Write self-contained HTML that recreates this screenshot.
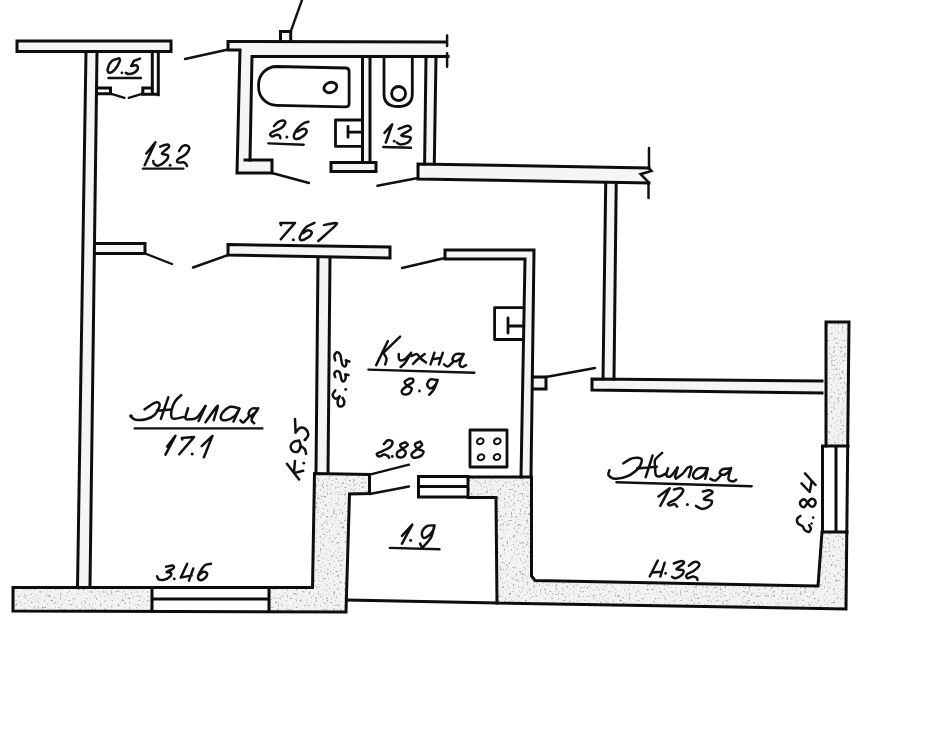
<!DOCTYPE html>
<html><head><meta charset="utf-8">
<title>plan</title>
<style>
html,body{margin:0;padding:0;background:#fff;}
body{width:928px;height:730px;overflow:hidden;font-family:"Liberation Sans",sans-serif;}
svg{display:block}
.f{fill:#f5f5f5;stroke:none}
.k{fill:#f3f3f3;stroke:none}
.s{fill:#000;stroke:none;filter:url(#st)}
.wf{fill:#fff;stroke:none}
.l{fill:none;stroke:#0d0d0d;stroke-width:3;stroke-linecap:square;stroke-linejoin:miter}
.m{fill:none;stroke:#0d0d0d;stroke-width:2.8;stroke-linecap:round;stroke-linejoin:round}
.d{fill:none;stroke:#111;stroke-width:2.4;stroke-linecap:round}
.n{fill:none;stroke:#111;stroke-width:2.5;stroke-linecap:round;stroke-linejoin:round}
.u{fill:none;stroke:#111;stroke-width:2.4;stroke-linecap:round}
</style></head><body>
<svg width="928" height="730" viewBox="0 0 928 730">
<defs>
<filter id="st" x="0" y="0" width="100%" height="100%" filterUnits="objectBoundingBox" color-interpolation-filters="sRGB">
<feTurbulence type="fractalNoise" baseFrequency="0.45" numOctaves="2" seed="7" result="n"/>
<feColorMatrix in="n" type="matrix" values="0 0 0 0 0.66  0 0 0 0 0.66  0 0 0 0 0.66  0 0 0 -5 2.05" result="c"/>
<feComposite in="c" in2="SourceGraphic" operator="in"/>
</filter>
</defs>
<rect width="928" height="730" fill="#fff"/>
<!-- ===== wall fills ===== -->
<g class="f">
<rect x="17" y="41" width="154" height="10.5"/>
<polygon points="86,51.5 97,51.5 90,587 77.5,587"/>
<rect x="96" y="243.5" width="49" height="10"/>
<polygon points="228,244.5 390,247 390,258 228,255"/>
<polygon points="318,257 330,257 328,474 316,474"/>
<polygon points="228,41.5 447,42 447,56 252,56.5 250,160 272,160 272,173 237,173 240,50 228,50"/>
<polygon points="362.5,56.5 370,56.5 370,162 362.5,162"/>
<rect x="331" y="162.5" width="45" height="9"/>
<polygon points="426,56.5 436,56.5 434.3,164 424.6,164"/>
<polygon points="418,164 649,168 651,171 641,174.2 648,182 648,183 418,179"/>
<polygon points="605.7,183 616.2,183 614,379 603,379"/>
<polygon points="445,250 534,250 531,478 521,478 525,259 445,259"/>
<rect x="532" y="377" width="14" height="12"/>
<polygon points="592,379 823,381 823,393 592,390"/>
</g>
<g class="k">
<polygon points="13,587.5 312.5,587.5 314.5,473.5 369.5,474.5 369.5,493.5 349.5,494 346,612 13,611"/>
<path d="M826 322H849L846 609L497 603L496 497.5H468V477H531.5V576L535 580.5L818 586L822 532L822.5 446H826Z"/>
</g>
<g class="s">
<polygon points="13,587.5 312.5,587.5 314.5,473.5 369.5,474.5 369.5,493.5 349.5,494 346,612 13,611"/>
<path d="M826 322H849L846 609L497 603L496 497.5H468V477H531.5V576L535 580.5L818 586L822 532L822.5 446H826Z"/>
</g>
<!-- window / vent interiors -->
<g class="wf">
<rect x="152" y="588" width="117" height="23"/>
<rect x="823" y="446" width="24" height="86"/>
<rect x="418.5" y="476.5" width="49.5" height="20.5"/>
</g>
<!-- ===== wall lines ===== -->
<g class="l">
<!-- top-left horizontal wall -->
<rect x="17" y="41" width="154" height="10.5"/>
<!-- long left wall -->
<path d="M86 51.5L77.5 587M97 51.5L90 587"/>
<!-- closet -->
<path d="M152.3 51.5V93.5M158.3 51.5V94.8M142.8 94.3H156"/>
<path d="M97 88H110.5V93.7H97M152 88H142.8V93.7"/>
<!-- stub wall left room top -->
<path d="M96 243.5H145V253.5H96"/>
<!-- 7.67 wall -->
<polygon points="228,244.5 390,247 390,258 228,255"/>
<!-- vertical wall living/kitchen -->
<path d="M318 258L316 473.5M330 258L328 473.5"/>
<!-- bottom-left thick wall -->
<path d="M13 587.5H312.5L314.5 473.5L369.5 474.5V493.5L349.5 494L346 612L13 611Z"/>
<path d="M152 587.5V611M269 587.5V611.5M152 599H269"/>
<!-- 1.9 room bottom line -->
<path d="M347 600L497 603"/>
<!-- bathroom block -->
<path d="M445 42L228 41.5V50H240L237 173H272V160H245"/>
<path d="M250 160L252 56.5H448"/>
<path d="M362.5 57V162M370 57V162"/>
<rect x="331" y="162.5" width="45" height="9"/>
<path d="M426 57L424.6 164M436 57L434.3 164"/>
<!-- little box on top -->
<path d="M280.5 41V31.5H290.7V41"/>
<!-- hall right wall -->
<path d="M649 168L418 164V179L649 183"/>
<!-- vertical wall below it -->
<path d="M605.7 184L603 379M616.2 184L614 379"/>
<!-- kitchen wall -->
<path d="M445 259V250H534L531 477M521 477L525 259H445"/>
<!-- stub -->
<path d="M532.5 377H546V389H532.5"/>
<!-- right room top wall -->
<path d="M822 381L592 379V390L822 393"/>
<!-- right thick walls -->
<path d="M826 446V322H849L846 609L497 603L496 497.5H468"/>
<path d="M468 477H531.5V576L535 580.5L818 586L822 532"/>
<!-- right window -->
<path d="M822.5 446V532M836 446V532M822.5 446H848M822.5 532H847"/>
<!-- vent -->
<path d="M418.5 476.5H468V497H418.5ZM418.5 486.5H468"/>
</g>
<!-- ===== thin lines (doors etc.) ===== -->
<g class="d">
<path d="M110.5 93.7L124.5 97.8M142.8 93.7L128.8 97.8"/>
<path d="M228 49.5L185 59"/>
<path d="M290.7 31.5L302 0"/>
<path d="M272 173L309 183"/>
<path d="M418 178L377.4 185.8"/>
<path d="M145 253.5L172 264"/>
<path d="M228 255L193 267.5"/>
<path d="M445 258L402 268"/>
<path d="M546 377L595 368"/>
<path d="M369.7 474.6L409 464.7M369.7 494L409 486.5"/>
<!-- break marks -->
<path stroke-width="2.5" d="M447.1 35.6V46M447.1 53.2V66.8"/>
<path stroke-width="2.5" d="M649 148V168.5L651.5 171L640.6 174.2L648.2 181.8L648.5 183V198"/>
</g>
<!-- ===== fixtures ===== -->
<g class="m">
<!-- bathtub -->
<path d="M276.6 66.5L345.6 68Q349.1 68.1 349.1 71.5V103.5Q349.1 107 345.6 106.9L276.6 105.3A18 18 0 0 1 258.6 87.3V84.5A18 18 0 0 1 276.6 66.5Z"/>
<ellipse cx="330.4" cy="87.5" rx="6.6" ry="5" transform="rotate(-20 330.4 87.5)"/>
<!-- bathroom sink -->
<path d="M362 120H335.5V146.4H362M348 126.3V137.3M348 132.2H362"/>
<!-- toilet -->
<path d="M384 57V94Q384 106.5 398 106.5Q412.3 106.5 412.3 94V57"/>
<circle cx="398.6" cy="93.5" r="7"/>
<!-- kitchen sink -->
<path d="M523 307.7H494.6V339.5H522.5M508 318V333M508 326H522.5"/>
<!-- stove -->
<rect x="470" y="430" width="37" height="37"/>
<g stroke-width="2"><ellipse cx="480.3" cy="441.3" rx="3.4" ry="2.8" transform="rotate(-25 480.3 441.3)"/><ellipse cx="497.3" cy="441.3" rx="3.4" ry="2.8" transform="rotate(-25 497.3 441.3)"/>
<ellipse cx="481" cy="457.3" rx="3.4" ry="2.8" transform="rotate(-25 481 457.3)"/><ellipse cx="497" cy="457" rx="3.4" ry="2.8" transform="rotate(-25 497 457)"/></g>
</g>
<g class="n">
<path d="M144.6 409.4C146.2 408.3 152.1 404.0 154.5 402.9C156.9 401.8 158.0 402.2 158.8 402.9C159.6 403.6 159.9 405.2 159.2 407.2C158.5 409.2 156.7 413.0 154.5 415.0C152.3 417.0 149.1 418.5 145.9 419.3C142.7 420.1 138.0 420.2 135.5 419.7C133.0 419.2 131.6 416.9 130.8 416.3M181.2 395.2C180.2 396.2 176.8 398.8 175.2 401.2C173.6 403.6 172.3 407.1 171.7 409.8C171.1 412.5 171.1 416.1 171.7 417.6C172.3 419.1 173.2 418.9 175.2 418.8C177.2 418.7 182.4 417.2 183.8 416.9M188.1 408.1C187.7 409.8 185.1 416.5 185.5 418.4C185.9 420.2 188.5 419.3 190.4 419.2C192.3 419.1 194.5 419.7 197.0 417.5C199.5 415.3 204.1 407.9 205.5 406.0M205.5 422.3C207.2 419.9 213.9 410.1 215.9 407.6C217.9 405.1 218.0 405.1 217.6 407.2C217.2 409.3 214.3 418.0 213.7 420.2M239.1 408.5C237.7 408.2 233.2 406.2 230.5 406.8C227.8 407.4 224.4 410.5 222.8 412.4C221.2 414.3 220.4 417.1 221.0 418.4C221.6 419.7 223.9 420.6 226.2 420.2C228.5 419.8 232.6 417.8 234.8 415.9C237.0 413.9 239.8 407.6 239.6 408.5C239.4 409.4 234.5 419.3 233.5 421.5M258.1 408.5C257.1 408.5 253.6 407.7 252.0 408.5C250.4 409.3 248.9 412.1 248.6 413.3C248.3 414.5 249.2 416.0 250.3 415.9C251.5 415.8 254.2 413.6 255.5 412.4C256.8 411.2 258.8 407.4 258.1 408.5C257.5 409.6 252.2 416.9 251.6 419.3C250.9 421.8 253.8 422.6 254.2 423.2M249.5 415.9C248.5 417.0 244.9 421.6 243.4 422.3C241.9 423.0 240.9 420.6 240.4 420.2M166.1 566.8C167.2 566.6 171.4 565.2 172.6 565.5C173.8 565.8 174.4 567.4 173.4 568.5C172.4 569.6 167.0 571.3 166.6 572.0C166.2 572.7 170.3 572.0 170.9 572.8C171.5 573.6 171.2 575.6 170.0 576.7C168.8 577.9 165.9 579.3 164.0 579.7C162.1 580.1 160.0 579.9 158.8 579.3C157.7 578.7 157.4 576.8 157.1 576.3M210.9 563.8C210.0 564.0 207.1 563.8 205.3 565.1C203.5 566.4 201.4 569.5 200.2 571.6C199.0 573.7 197.9 576.2 198.0 577.6C198.1 579.0 199.6 580.4 201.0 580.2C202.4 580.1 205.3 577.9 206.2 576.7C207.1 575.5 207.2 573.6 206.6 572.8C206.0 572.0 204.1 571.6 202.8 572.0C201.5 572.4 199.6 574.5 198.9 575.0M299.1 440.5C298.2 440.7 295.3 440.8 293.9 441.7C292.5 442.6 290.9 444.2 290.7 445.8C290.5 447.4 291.5 450.0 292.7 451.0C293.9 452.0 296.6 452.5 297.9 451.6C299.2 450.7 300.3 447.7 300.5 445.8C300.7 443.9 299.3 441.4 299.1 440.5M300.5 445.8C301.2 446.4 304.0 447.9 304.9 449.2C305.8 450.5 305.9 453.1 306.1 453.9M295.6 432.4C296.4 431.6 298.6 428.2 300.3 427.7C302.1 427.2 304.8 428.2 306.1 429.5C307.4 430.8 308.4 433.6 308.2 435.3C308.0 437.0 305.4 439.1 304.9 439.9M314.4 222.9C313.0 223.6 308.6 225.0 306.2 227.2C303.8 229.4 301.1 233.7 300.2 235.9C299.3 238.1 299.7 239.9 301.0 240.2C302.3 240.5 306.1 238.9 307.9 237.6C309.7 236.3 311.8 233.6 311.8 232.4C311.8 231.2 309.4 230.2 307.9 230.3C306.4 230.5 303.6 232.8 302.8 233.3M323.9 225.1C325.8 224.7 333.2 222.8 335.1 222.9C337.0 223.0 338.3 222.5 335.5 225.5C332.7 228.5 321.2 238.4 318.3 241.0M160.2 146.6C161.3 146.2 165.7 144.4 167.1 144.5C168.5 144.6 169.7 145.6 168.8 147.1C167.9 148.6 162.1 152.1 161.9 153.5C161.8 154.9 167.2 154.2 167.9 155.3C168.6 156.5 167.8 158.7 166.2 160.4C164.6 162.1 160.4 165.0 158.4 165.6C156.4 166.2 154.9 164.7 154.1 163.9C153.2 163.1 153.4 161.4 153.3 160.9M179.1 150.9C179.7 150.1 181.1 147.0 182.6 146.2C184.1 145.3 186.7 145.3 187.8 145.8C188.9 146.3 189.5 147.7 189.1 149.2C188.7 150.7 186.9 153.3 185.2 154.8C183.5 156.3 180.5 157.3 179.1 158.3C177.7 159.3 177.0 160.2 177.0 160.9C177.0 161.6 178.0 162.4 179.1 162.6C180.2 162.8 182.2 162.0 183.4 162.2C184.6 162.4 185.4 163.3 186.0 163.9C186.6 164.5 186.8 165.7 186.9 166.0M119.3 58.2C118.0 58.7 113.5 59.4 111.6 61.2C109.7 63.0 108.1 67.1 107.7 69.0C107.3 70.9 108.2 72.7 109.4 72.8C110.6 72.9 113.3 71.3 115.0 69.4C116.7 67.5 119.0 63.1 119.7 61.2C120.4 59.3 119.4 58.7 119.3 58.2M131.4 65.9C132.3 65.8 135.5 65.0 136.6 65.5C137.7 66.0 138.2 67.8 137.8 69.0C137.4 70.2 135.5 72.0 134.0 72.8C132.5 73.6 130.2 74.1 128.8 74.1C127.4 74.1 126.3 73.0 125.8 72.8M274.0 126.1C274.7 125.4 276.7 122.7 278.3 121.8C279.9 120.9 282.2 120.3 283.4 120.5C284.5 120.7 285.6 121.8 285.2 123.1C284.8 124.4 282.9 126.9 280.9 128.3C278.9 129.7 274.9 130.7 273.1 131.7C271.3 132.7 270.2 133.5 270.1 134.3C270.0 135.1 271.1 136.4 272.2 136.5C273.3 136.6 275.4 134.8 276.6 134.7C277.8 134.5 279.0 135.0 279.6 135.6C280.2 136.2 280.3 137.8 280.4 138.2M308.4 121.8C307.5 122.1 305.2 122.3 303.3 123.5C301.4 124.7 298.8 127.0 297.2 129.1C295.6 131.2 293.9 134.3 293.8 136.0C293.7 137.7 294.8 139.1 296.4 139.1C298.0 139.1 301.6 137.4 303.3 136.0C305.0 134.6 306.7 132.1 306.7 130.9C306.7 129.7 304.9 128.6 303.3 128.7C301.7 128.8 298.2 131.2 297.2 131.7M398.7 128.9C400.2 128.4 405.9 125.6 407.8 125.7C409.8 125.8 411.5 128.0 410.4 129.6C409.3 131.2 401.3 134.1 401.3 135.4C401.3 136.7 409.3 136.1 410.4 137.3C411.5 138.5 409.4 141.3 407.8 142.5C406.2 143.7 402.5 144.4 400.7 144.4C398.9 144.4 397.4 142.8 396.8 142.5M383.3 352.8C383.8 353.8 386.2 356.7 386.5 358.6C386.8 360.5 385.4 363.4 385.2 364.4M398.8 354.1C398.9 355.1 398.4 359.0 399.4 359.9C400.4 360.8 402.7 360.5 404.6 359.3C406.6 358.1 410.0 353.9 411.1 352.8M411.1 352.8C410.1 354.4 407.0 360.1 405.3 362.5C403.6 364.9 401.5 366.2 400.7 367.0M411.7 356.0C412.6 355.7 415.5 353.8 416.9 354.1C418.3 354.4 418.6 356.6 420.1 358.0C421.6 359.4 425.0 361.8 426.0 362.5M424.7 354.1C423.6 354.9 419.9 357.4 418.0 359.0C416.1 360.6 413.8 363.0 413.0 363.8M463.5 354.1C462.2 354.1 457.5 353.2 455.7 354.1C453.9 355.0 452.4 358.1 452.5 359.3C452.6 360.5 454.7 361.6 456.3 361.2C457.9 360.8 461.0 357.9 462.2 356.7C463.4 355.5 463.9 352.9 463.5 354.1C463.1 355.3 459.8 361.7 459.6 363.8C459.4 365.9 461.1 366.8 462.2 367.0C463.3 367.2 465.4 365.4 466.0 365.1M453.8 361.2C452.8 362.1 449.5 365.9 447.9 366.4C446.3 366.9 444.7 364.7 444.1 364.4M409.1 378.7C408.4 379.2 404.9 380.7 404.6 381.9C404.3 383.1 406.0 384.7 407.2 385.8C408.4 386.9 411.4 387.1 411.7 388.4C412.0 389.7 410.5 392.5 409.1 393.5C407.7 394.5 404.5 394.7 403.3 394.2C402.1 393.7 401.4 391.7 402.0 390.3C402.6 388.9 405.4 387.2 407.2 385.8C409.0 384.4 412.1 383.1 413.0 381.9C413.9 380.7 413.0 379.2 412.4 378.7C411.8 378.2 409.7 378.7 409.1 378.7M436.3 380.0C435.3 379.9 432.0 378.6 430.5 379.3C429.0 380.1 427.2 383.0 427.2 384.5C427.2 386.0 429.1 388.4 430.5 388.4C431.9 388.4 434.5 385.9 435.7 384.5C436.9 383.1 437.9 379.1 437.6 380.0C437.3 380.9 435.1 387.2 433.7 389.7C432.3 392.2 429.9 393.9 429.2 394.8M335.2 390.4C334.8 391.2 332.5 393.6 332.6 395.0C332.7 396.4 334.4 398.5 335.6 398.7C336.8 398.9 339.1 396.8 339.8 396.4M339.8 396.4C339.4 397.2 337.9 399.4 337.7 401.0C337.5 402.6 337.9 405.2 338.8 406.0C339.7 406.8 342.1 406.4 343.0 405.6C343.9 404.8 344.4 402.7 344.3 401.4C344.2 400.1 342.8 398.4 342.5 397.8M335.2 377.1C335.1 376.5 334.1 374.4 334.4 373.4C334.7 372.4 335.9 371.0 336.8 370.9C337.7 370.8 339.1 371.5 339.8 372.5C340.5 373.5 340.5 375.7 340.9 377.1C341.3 378.5 341.5 380.2 342.1 380.8C342.7 381.4 343.7 381.5 344.3 381.0C344.9 380.5 345.5 379.1 345.7 378.0C345.9 376.9 345.4 375.1 345.4 374.5M335.2 360.4C335.1 359.6 334.1 357.0 334.4 355.6C334.7 354.2 336.2 352.4 337.2 352.2C338.2 352.0 339.5 353.2 340.2 354.6C340.9 356.0 341.0 358.8 341.4 360.6C341.8 362.4 342.0 364.2 342.7 365.2C343.4 366.1 344.7 366.6 345.3 366.3C345.9 366.0 346.3 364.3 346.4 363.3C346.5 362.3 346.1 360.9 346.0 360.4M383.9 444.2C384.5 443.6 386.4 440.7 387.8 440.3C389.2 439.9 391.9 440.5 392.3 441.6C392.7 442.7 392.1 445.2 390.4 446.8C388.7 448.4 384.3 450.1 382.0 451.3C379.7 452.5 377.2 453.0 376.8 453.9C376.4 454.8 378.2 456.4 379.4 456.5C380.6 456.6 382.5 454.7 383.9 454.6C385.3 454.5 386.9 455.4 387.8 455.9C388.7 456.4 388.9 457.5 389.1 457.8M405.3 442.3C404.4 442.7 400.5 443.8 400.1 444.9C399.7 446.0 401.7 447.5 402.7 448.8C403.7 450.1 405.9 451.2 405.9 452.6C405.9 454.0 404.1 456.6 402.7 457.2C401.3 457.8 398.4 457.4 397.5 456.5C396.6 455.6 396.6 453.3 397.5 452.0C398.4 450.7 401.0 450.0 402.7 448.8C404.4 447.6 407.4 446.0 407.8 444.9C408.2 443.8 405.7 442.7 405.3 442.3M420.1 441.6C419.2 442.0 415.4 443.0 415.0 444.2C414.6 445.4 416.1 447.6 417.5 448.8C418.9 450.0 422.8 450.1 423.4 451.3C423.9 452.5 422.4 454.8 420.8 455.9C419.2 457.0 415.2 458.1 413.7 457.8C412.2 457.5 411.1 455.4 411.7 453.9C412.3 452.4 415.8 450.3 417.5 448.8C419.2 447.3 421.7 446.1 422.1 444.9C422.5 443.7 420.4 442.2 420.1 441.6M433.9 525.5C432.8 525.6 429.3 524.9 427.4 525.9C425.4 526.9 422.9 529.6 422.2 531.6C421.5 533.6 422.1 536.9 423.1 537.6C424.1 538.3 426.6 537.2 428.3 535.9C430.0 534.6 432.4 531.5 433.4 529.8C434.4 528.1 434.7 524.2 434.3 525.5C433.9 526.8 432.9 533.9 430.9 537.6C428.9 541.3 423.6 546.2 422.2 547.9M623.3 463.3C624.9 462.4 629.8 458.8 632.8 458.1C635.8 457.4 640.4 457.4 641.4 459.0C642.4 460.6 641.1 464.7 638.8 467.6C636.5 470.5 631.5 474.3 627.6 476.2C623.7 478.1 618.7 478.9 615.5 478.8C612.3 478.7 609.6 476.7 608.6 475.3C607.6 473.9 609.4 471.1 609.5 470.2M662.1 452.9C661.0 454.0 656.4 457.4 655.2 459.8C654.1 462.2 655.1 465.0 655.2 467.6C655.3 470.2 655.1 473.9 656.0 475.3C656.9 476.7 658.7 476.5 660.3 476.2C661.9 475.9 664.6 474.0 665.5 473.6M668.1 468.4C667.8 469.5 666.0 474.0 666.4 475.3C666.8 476.6 668.8 477.5 670.7 476.2C672.6 474.9 676.5 469.0 677.6 467.6M675.9 478.8C677.0 477.9 680.8 475.5 682.8 473.6C684.8 471.7 686.5 468.6 687.9 467.6C689.3 466.6 691.2 466.0 691.4 467.6C691.5 469.2 689.2 475.5 688.8 477.1M706.9 468.4C705.5 468.4 700.6 467.4 698.3 468.4C696.0 469.4 693.5 472.8 693.1 474.5C692.7 476.2 694.0 478.7 695.7 478.8C697.4 478.9 701.4 477.0 703.4 475.3C705.4 473.6 707.5 467.8 707.8 468.4C708.1 469.0 705.6 477.1 705.2 478.8M731.0 468.4C729.6 468.5 724.3 468.4 722.4 469.3C720.5 470.2 719.4 472.7 719.8 473.6C720.2 474.5 723.3 475.1 725.0 474.5C726.7 473.9 729.2 471.2 730.2 470.2C731.2 469.2 731.3 467.0 731.0 468.4C730.7 469.8 728.1 476.6 728.4 478.8C728.7 481.0 731.5 481.2 732.8 481.4C734.1 481.5 735.6 480.0 736.2 479.7M721.6 474.5C720.6 475.5 717.4 479.8 715.5 480.5C713.6 481.2 711.2 479.1 710.3 478.8M674.0 489.5C675.1 489.3 679.0 487.9 680.5 488.2C682.0 488.5 683.7 489.5 683.1 491.2C682.5 492.9 679.6 496.5 677.1 498.5C674.6 500.5 669.6 502.2 668.4 503.3C667.2 504.4 668.7 505.3 669.7 505.4C670.7 505.5 673.3 503.9 674.5 504.1C675.7 504.3 676.7 506.3 677.1 506.7M702.9 491.6C703.9 491.4 707.4 490.1 709.0 490.3C710.6 490.5 713.3 491.4 712.4 492.9C711.5 494.3 703.9 497.7 703.8 499.0C703.7 500.3 710.6 499.6 711.6 500.7C712.6 501.8 711.4 504.5 709.8 505.9C708.2 507.3 704.4 508.9 702.1 508.9C699.8 508.9 697.0 506.4 696.0 505.9M673.8 563.5C675.1 563.1 680.0 560.9 681.6 560.9C683.2 560.9 684.6 562.1 683.7 563.5C682.8 564.9 676.5 568.0 676.4 569.1C676.3 570.2 682.4 569.4 683.3 570.4C684.2 571.4 682.9 573.9 681.6 575.2C680.3 576.5 677.1 577.9 675.5 578.2C673.9 578.5 672.7 577.1 672.1 576.9M688.9 565.7C689.7 565.1 692.0 562.7 693.6 562.2C695.2 561.7 697.5 562.1 698.4 562.7C699.3 563.4 699.6 564.7 698.8 566.1C698.0 567.5 695.6 569.5 693.6 570.9C691.6 572.3 687.7 573.5 686.7 574.7C685.7 575.9 686.6 577.9 687.6 578.2C688.6 578.5 691.3 576.6 692.8 576.5C694.3 576.4 695.8 577.2 696.6 577.8C697.4 578.4 697.4 579.5 697.5 579.9M800.4 515.9C799.9 516.4 797.6 517.5 797.2 518.8C796.8 520.1 797.1 522.2 798.0 523.5C798.9 524.8 801.6 525.3 802.7 526.4C803.8 527.5 803.5 529.0 804.5 529.9C805.5 530.8 807.4 532.2 808.5 532.0C809.6 531.8 810.8 529.8 810.9 528.7C811.0 527.6 809.4 525.8 809.1 525.2M807.4 503.1C807.0 502.5 806.1 500.0 805.0 499.6C803.9 499.2 801.8 499.9 801.0 500.8C800.2 501.7 799.9 503.7 800.4 504.8C800.9 505.9 802.7 507.5 803.9 507.2C805.1 506.9 806.2 504.5 807.4 503.1C808.6 501.7 809.6 499.5 810.9 499.0C812.1 498.5 814.2 499.2 814.9 500.2C815.6 501.2 815.5 503.7 814.9 504.8C814.3 505.9 812.6 506.9 811.4 506.6C810.1 506.3 808.1 503.7 807.4 503.1"/>
<path d="M157.0 410.7L171.7 409.4M168.3 397.3L160.9 418.9M205.5 406.0L198.6 421.0M167.2 446.6L175.4 435.8L165.5 454.7M182.2 439.5L181.9 437.9L194.0 437.1L179.3 454.3M201.7 446.1L212.5 435.8L203.9 457.3M187.2 563.8L180.8 577.6L191.6 575.4M193.3 568.5L189.0 580.6M286.9 463.8L299.1 479.5M295.0 460.9L293.9 473.1L303.2 470.8M295.0 419.0L295.6 432.4M281.0 225.0L280.3 222.9L295.0 222.9L280.8 239.3M146.4 153.5L155.4 142.3L144.7 165.2M140.0 58.6L134.0 60.8L131.4 65.9M384.5 132.8L392.2 124.4L385.8 142.5M387.8 341.2L376.2 365.1M400.1 336.6L383.3 352.8M434.4 352.8L430.5 364.4M432.4 359.3L440.2 358.0M442.8 352.8L438.9 364.4M345.4 374.5L348.5 375.1M346.0 360.4L349.4 361.5M402.0 535.9L412.3 524.7L402.0 543.6M422.2 547.9L420.1 543.6M637.1 468.4L656.9 466.7M652.6 455.5L645.7 477.1M677.6 467.6L675.0 477.1M658.5 496.4L669.7 488.2L660.3 505.9M657.8 560.5L649.7 576.5M652.2 572.6L661.7 571.7M664.7 562.7L660.4 576.5M801.5 483.3L809.7 492.0L811.7 481.0M805.0 473.4L815.5 485.0"/>
</g>
<g class="u"><path d="M134.7 428.4L262.4 428.4M142.9 168.6L183.4 168.6M108.5 78.0L140.9 78.0M268.4 143.4L303.7 144.7M383.2 147.0L411.0 147.7M368.4 369.6L474.4 372.8M389.9 547.9L439.5 549.2M616.4 482.2L751.7 486.2"/></g>
<g fill="#111"><circle cx="131.0" cy="416.0" r="1.8"/><circle cx="192.2" cy="453.9" r="1.5"/><circle cx="174.3" cy="578.9" r="1.4"/><circle cx="303.8" cy="463.2" r="1.4"/><circle cx="305.0" cy="439.8" r="1.5"/><circle cx="293.3" cy="239.7" r="1.5"/><circle cx="170.1" cy="165.2" r="1.5"/><circle cx="121.9" cy="72.8" r="1.4"/><circle cx="286.9" cy="136.9" r="1.5"/><circle cx="394.2" cy="141.2" r="1.4"/><circle cx="419.5" cy="391.0" r="1.4"/><circle cx="345.7" cy="389.5" r="1.4"/><circle cx="392.3" cy="456.5" r="1.4"/><circle cx="410.6" cy="540.2" r="1.5"/><circle cx="687.4" cy="504.6" r="1.5"/><circle cx="665.6" cy="573.4" r="1.4"/><circle cx="813.2" cy="517.6" r="1.3"/><circle cx="811.5" cy="523.5" r="1.2"/></g>
</svg>
</body></html>
